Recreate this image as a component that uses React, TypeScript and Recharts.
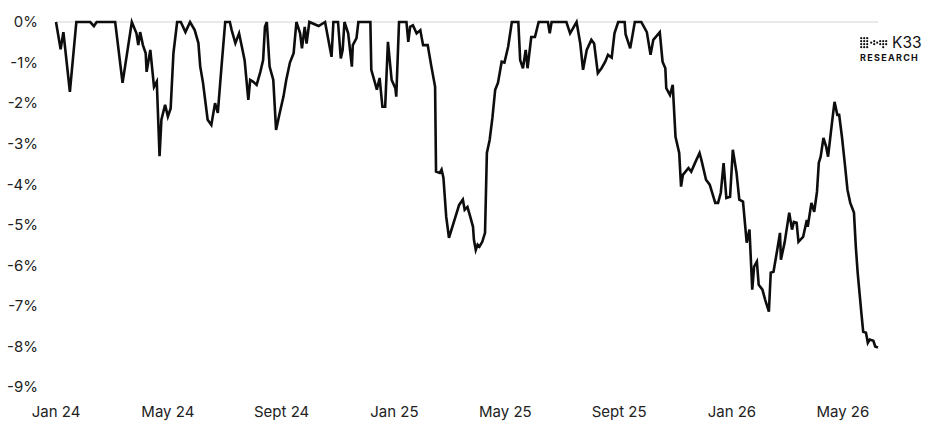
import React from 'react';
import { LineChart, Line, XAxis, YAxis } from 'recharts';

// drawdown in %
const dates = [
  '2024-01-01', '2024-01-06', '2024-01-09', '2024-01-16', '2024-01-23', '2024-02-07', '2024-02-11', '2024-02-14',
  '2024-03-05', '2024-03-13', '2024-03-23', '2024-03-28', '2024-03-30', '2024-04-01', '2024-04-04', '2024-04-07',
  '2024-04-08', '2024-04-12', '2024-04-16', '2024-04-19', '2024-04-22', '2024-04-24', '2024-04-28', '2024-05-01',
  '2024-05-04', '2024-05-07', '2024-05-11', '2024-05-15', '2024-05-20', '2024-05-25', '2024-05-30', '2024-06-03',
  '2024-06-05', '2024-06-08', '2024-06-13', '2024-06-17', '2024-06-21', '2024-06-24', '2024-06-28', '2024-07-02',
  '2024-07-07', '2024-07-09', '2024-07-13', '2024-07-17', '2024-07-20', '2024-07-23', '2024-07-27', '2024-07-29',
  '2024-08-01', '2024-08-05', '2024-08-09', '2024-08-12', '2024-08-14', '2024-08-16', '2024-08-19', '2024-08-23',
  '2024-08-26', '2024-08-30', '2024-09-03', '2024-09-06', '2024-09-10', '2024-09-14', '2024-09-17', '2024-09-21',
  '2024-09-23', '2024-09-26', '2024-09-28', '2024-10-01', '2024-10-11', '2024-10-18', '2024-10-21', '2024-10-25',
  '2024-10-27', '2024-11-01', '2024-11-04', '2024-11-06', '2024-11-08', '2024-11-12', '2024-11-16', '2024-11-17',
  '2024-11-21', '2024-11-23', '2024-12-06', '2024-12-07', '2024-12-11', '2024-12-13', '2024-12-16', '2024-12-19',
  '2024-12-22', '2024-12-25', '2024-12-29', '2025-01-02', '2025-01-03', '2025-01-06', '2025-01-14', '2025-01-16',
  '2025-01-18', '2025-01-21', '2025-01-25', '2025-01-29', '2025-02-01', '2025-02-06', '2025-02-10', '2025-02-14',
  '2025-02-15', '2025-02-19', '2025-02-21', '2025-02-23', '2025-02-26', '2025-03-01', '2025-03-07', '2025-03-12',
  '2025-03-16', '2025-03-18', '2025-03-21', '2025-03-24', '2025-03-27', '2025-03-28', '2025-03-30', '2025-04-01',
  '2025-04-03', '2025-04-06', '2025-04-09', '2025-04-11', '2025-04-14', '2025-04-17', '2025-04-20', '2025-04-23',
  '2025-04-27', '2025-04-30', '2025-05-04', '2025-05-08', '2025-05-15', '2025-05-17', '2025-05-20', '2025-05-23',
  '2025-05-25', '2025-05-29', '2025-06-02', '2025-06-06', '2025-06-16', '2025-06-18', '2025-06-20', '2025-07-06',
  '2025-07-10', '2025-07-17', '2025-07-21', '2025-07-24', '2025-07-28', '2025-08-02', '2025-08-05', '2025-08-09',
  '2025-08-13', '2025-08-17', '2025-08-20', '2025-08-24', '2025-08-27', '2025-08-31', '2025-09-07', '2025-09-08',
  '2025-09-13', '2025-09-18', '2025-09-25', '2025-10-01', '2025-10-05', '2025-10-08', '2025-10-15', '2025-10-18',
  '2025-10-21', '2025-10-22', '2025-10-26', '2025-10-29', '2025-11-01', '2025-11-05', '2025-11-07', '2025-11-09',
  '2025-11-15', '2025-11-18', '2025-11-22', '2025-11-27', '2025-11-29', '2025-12-04', '2025-12-08', '2025-12-14',
  '2025-12-17', '2025-12-20', '2025-12-23', '2025-12-26', '2025-12-30', '2026-01-02', '2026-01-06', '2026-01-09',
  '2026-01-13', '2026-01-17', '2026-01-20', '2026-01-23', '2026-01-25', '2026-01-28', '2026-01-30', '2026-02-03',
  '2026-02-06', '2026-02-10', '2026-02-12', '2026-02-15', '2026-02-19', '2026-02-22', '2026-02-23', '2026-02-27',
  '2026-03-04', '2026-03-07', '2026-03-09', '2026-03-12', '2026-03-14', '2026-03-19', '2026-03-23', '2026-03-24',
  '2026-03-28', '2026-03-31', '2026-04-03', '2026-04-05', '2026-04-07', '2026-04-10', '2026-04-13', '2026-04-15',
  '2026-04-18', '2026-04-20', '2026-04-22', '2026-04-25', '2026-04-27', '2026-04-30', '2026-05-03', '2026-05-06',
  '2026-05-09', '2026-05-13', '2026-05-15', '2026-05-17', '2026-05-21', '2026-05-23', '2026-05-26', '2026-05-28',
  '2026-05-30', '2026-06-03', '2026-06-05', '2026-06-08',
];

const drawdown = [
  0, -0.67, -0.25, -1.72, 0, 0, -0.1, 0,
  0, -1.5, 0, -0.28, -0.57, -0.25, -0.57, -0.77,
  -1.23, -0.69, -1.6, -1.47, -3.31, -2.41, -2.04, -2.33,
  -2.13, -0.77, 0, 0, -0.25, 0, -0.2, -0.52,
  -1.1, -1.5, -2.41, -2.54, -2.0, -2.24, -1.1, 0,
  0, -0.2, -0.52, -0.28, -0.61, -0.94, -1.92, -1.43,
  -1.47, -1.55, -1.23, -0.94, -0.12, 0, -1.1, -1.43,
  -2.66, -2.24, -1.84, -1.43, -1.0, -0.77, 0, -0.28,
  -0.65, -0.12, -0.53, 0, -0.1, 0, -0.37, -0.86,
  0, 0, -0.9, -0.69, 0, -0.28, -1.1, -0.57,
  -0.4, 0, 0, -1.18, -1.5, -1.67, -1.38, -2.09,
  -2.09, -0.49, -1.43, -1.63, -1.84, 0, 0, -0.49,
  -0.12, -0.08, -0.28, -0.2, -0.57, -0.57, -1.1, -1.6,
  -3.69, -3.72, -3.64, -3.84, -4.8, -5.32, -4.88, -4.51,
  -4.38, -4.63, -4.56, -4.8, -5.05, -5.37, -5.62, -5.49,
  -5.54, -5.42, -5.2, -3.23, -2.91, -2.36, -1.67, -1.5,
  -0.98, -1.0, -0.61, 0, 0, -0.94, -1.14, -0.69,
  -1.14, -0.37, -0.37, 0, 0, -0.28, 0, 0,
  -0.28, 0, -0.53, -1.18, -0.69, -0.44, -0.53, -1.26,
  -1.14, -0.98, -0.81, -0.88, -0.28, 0, 0, -0.3,
  -0.65, 0, 0, -0.25, -0.81, -0.44, -0.25, -0.98,
  -1.14, -1.63, -1.8, -1.55, -2.83, -3.23, -4.06, -3.77,
  -3.6, -3.69, -3.48, -3.23, -3.4, -3.89, -4.01, -4.46,
  -4.46, -4.21, -3.48, -4.34, -4.31, -3.15, -3.72, -4.38,
  -4.43, -5.44, -5.12, -6.6, -6.03, -5.91, -6.48, -6.6,
  -6.85, -7.14, -6.18, -6.16, -5.62, -5.2, -5.86, -5.44,
  -4.7, -5.12, -4.93, -4.95, -5.42, -5.3, -4.88, -5.05,
  -4.46, -4.68, -4.19, -3.47, -3.32, -2.86, -3.08, -3.32,
  -2.73, -2.34, -1.97, -2.29, -2.29, -2.83, -3.47, -4.14,
  -4.46, -4.7, -5.54, -6.18, -7.17, -7.64, -7.66, -7.91,
  -7.83, -7.86, -8.0, -8.03,
];

const tickDates = ['2024-01-01', '2024-05-01', '2024-09-01', '2025-01-01', '2025-05-01', '2025-09-01', '2026-01-01', '2026-05-01'];
const tickLabels = ['Jan 24', 'May 24', 'Sept 24', 'Jan 25', 'May 25', 'Sept 25', 'Jan 26', 'May 26'];
const yTicks = [0, -1, -2, -3, -4, -5, -6, -7, -8, -9];

const toTime = (s: string) => {
  const [y, m, d] = s.split('-').map(Number);
  return Date.UTC(y, m - 1, d);
};

const data = dates.map((d, i) => ({ t: toTime(d), v: drawdown[i] }));
const tickTimes = tickDates.map(toTime);

const FONT = 'Inter, "Noto Sans", sans-serif';
const tickStyle = { fill: '#222', fontSize: 15, fontFamily: FONT };

// K33 Research logo, dotted mark + wordmark
const Logo = () => {
  const dots: Array<[number, number]> = [];
  for (let c = 0; c < 3; c++) for (let r = 0; r < 4; r++) dots.push([c * 3, r * 3]);
  [[10, 4.5], [13, 3], [13, 6], [16, 4.5], [19, 3], [19, 6], [22, 3], [22, 6], [22, 9], [25, 3], [25, 6]].forEach(
    (p) => dots.push(p as [number, number])
  );
  return (
    <div style={{ position: 'absolute', left: 860, top: 36, width: 66, fontFamily: FONT, color: '#111' }}>
      <div style={{ display: 'flex', alignItems: 'center', height: 14 }}>
        <svg width={28} height={12} style={{ marginRight: 4 }}>
          {dots.map(([x, y], i) => (
            <circle key={i} cx={x + 1.2} cy={y + 1.2} r={1.1} fill="#111" />
          ))}
        </svg>
        <span style={{ fontSize: 15.5, lineHeight: '14px' }}>K33</span>
      </div>
      <div style={{ fontSize: 9, fontWeight: 700, letterSpacing: 1.3, lineHeight: '11px', marginTop: 2 }}>
        RESEARCH
      </div>
    </div>
  );
};

export default function App() {
  return (
    <div style={{ position: 'fixed', left: 0, top: 0, width: 936, height: 437, background: '#fff' }}>
      {/* back layer: light zero line with small month ticks, kept behind the series */}
      <div style={{ position: 'absolute', left: 0, top: 0 }}>
        <LineChart width={936} height={437} data={data} margin={{ top: 21, right: 58, bottom: 50, left: 56 }}>
          <XAxis
            orientation="top"
            dataKey="t"
            type="number"
            domain={['dataMin', 'dataMax']}
            ticks={tickTimes}
            tick={false}
            height={1}
            tickSize={-4}
            axisLine={{ stroke: '#e2e2e2', strokeWidth: 1.6 }}
            tickLine={{ stroke: '#e2e2e2', strokeWidth: 1.2 }}
          />
        </LineChart>
      </div>
      {/* front layer: labels and the drawdown line */}
      <div style={{ position: 'absolute', left: 0, top: 0 }}>
        <LineChart width={936} height={437} data={data} margin={{ top: 22, right: 58, bottom: 20, left: 0 }}>
          <XAxis
            dataKey="t"
            type="number"
            domain={['dataMin', 'dataMax']}
            ticks={tickTimes}
            tickFormatter={(t: number) => tickLabels[tickTimes.indexOf(t)] ?? ''}
            axisLine={false}
            tickLine={false}
            tickMargin={13}
            height={30}
            tick={tickStyle}
            interval={0}
          />
          <YAxis
            domain={[-9, 0]}
            ticks={yTicks}
            tickFormatter={(v: number) => `${v}%`}
            axisLine={false}
            tickLine={false}
            tickMargin={12}
            width={56}
            tick={tickStyle}
            interval={0}
          />
          <Line
            type="linear"
            dataKey="v"
            stroke="#0d0d0d"
            strokeWidth={2.6}
            dot={false}
            isAnimationActive={false}
          />
        </LineChart>
      </div>
      <Logo />
    </div>
  );
}
